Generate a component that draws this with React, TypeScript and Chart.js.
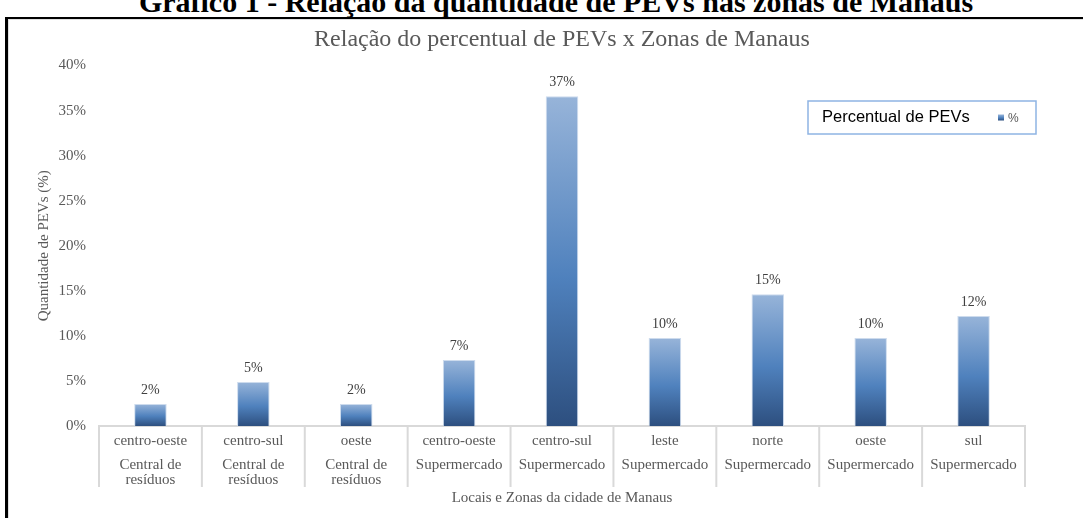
import { useEffect, useRef } from 'react';
import { Chart, registerables } from 'chart.js';

Chart.register(...registerables);

// ---- data ----
const zoneLabels = ['centro-oeste', 'centro-sul', 'oeste', 'centro-oeste', 'centro-sul', 'leste', 'norte', 'oeste', 'sul'];
const placeLabels = [
  ['Central de', 'resíduos'],
  ['Central de', 'resíduos'],
  ['Central de', 'resíduos'],
  ['Supermercado'],
  ['Supermercado'],
  ['Supermercado'],
  ['Supermercado'],
  ['Supermercado'],
  ['Supermercado'],
];
const pevPercent = [2.44, 4.88, 2.44, 7.32, 36.59, 9.76, 14.63, 9.76, 12.2];
const seriesName = '%';
const yTickMin = 0;
const yTickMax = 40;
const yTickStep = 5;

const headingText = 'Gráfico 1 - Relação da quantidade de PEVs nas zonas de Manaus';
const chartTitle = 'Relação do percentual de PEVs x Zonas de Manaus';
const yTitle = 'Quantidade de PEVs (%)';
const xTitle = 'Locais e Zonas da cidade de Manaus';
const legendTitle = 'Percentual de PEVs';

const SERIF = '"Liberation Serif", "Times New Roman", serif';
const SANS = '"Liberation Sans", Arial, sans-serif';

function makeGradient(ctx: CanvasRenderingContext2D, top: number, bottom: number) {
  const g = ctx.createLinearGradient(0, top, 0, bottom);
  g.addColorStop(0, '#97b4d9');
  g.addColorStop(0.55, '#4f81bd');
  g.addColorStop(1, '#2d4f7f');
  return g;
}

const barFill = (c: any) => {
  const chart = c.chart;
  const ys = chart.scales && chart.scales.y;
  if (!ys || c.type !== 'data') return '#4f81bd';
  const top = ys.getPixelForValue(c.raw);
  const bottom = ys.getPixelForValue(0);
  if (!isFinite(top) || !isFinite(bottom) || top === bottom) return '#4f81bd';
  return makeGradient(chart.ctx, top, bottom);
};

const valueLabels = {
  id: 'valueLabels',
  afterDatasetsDraw(chart: any, _args: any, o: any) {
    const ctx = chart.ctx;
    const meta = chart.getDatasetMeta(0);
    const data = chart.data.datasets[0].data;
    ctx.save();
    ctx.font = o.font;
    ctx.fillStyle = o.color;
    ctx.textAlign = 'center';
    ctx.textBaseline = 'middle';
    meta.data.forEach((bar: any, i: number) => {
      ctx.fillText(Math.round(data[i]) + '%', bar.x, bar.y - o.offset);
    });
    ctx.restore();
  },
};

const separators = {
  id: 'separators',
  afterDraw(chart: any, _args: any, o: any) {
    const xs = chart.scales.x;
    const n = chart.data.labels.length;
    const half = (xs.getPixelForValue(1) - xs.getPixelForValue(0)) / 2;
    const ctx = chart.ctx;
    ctx.save();
    ctx.strokeStyle = o.color;
    ctx.lineWidth = o.width;
    for (let i = 0; i <= n; i++) {
      const px = i < n ? xs.getPixelForValue(i) - half : xs.getPixelForValue(n - 1) + half;
      ctx.beginPath();
      ctx.moveTo(px, xs.top);
      ctx.lineTo(px, o.bottom);
      ctx.stroke();
    }
    ctx.restore();
  },
};

const boxLegend = {
  id: 'boxLegend',
  afterDraw(chart: any, _args: any, o: any) {
    const ctx = chart.ctx;
    ctx.save();
    ctx.strokeStyle = o.borderColor;
    ctx.lineWidth = o.borderWidth;
    ctx.strokeRect(o.x, o.y, o.w, o.h);
    const cy = o.y + o.h / 2;
    ctx.font = o.titleFont;
    ctx.fillStyle = o.titleColor;
    ctx.textAlign = 'left';
    ctx.textBaseline = 'middle';
    ctx.fillText(o.title, o.x + o.titleInset, cy);
    const mx = o.x + o.markerInset;
    ctx.fillStyle = makeGradient(ctx, cy - o.marker / 2, cy + o.marker / 2);
    ctx.fillRect(mx, cy - o.marker / 2, o.marker, o.marker);
    ctx.font = o.itemFont;
    ctx.fillStyle = o.itemColor;
    ctx.fillText(chart.data.datasets[0].label, mx + o.marker + 4, cy + 1);
    ctx.restore();
  },
};

export default function App() {
  const ref = useRef<HTMLCanvasElement | null>(null);

  useEffect(() => {
    if (!ref.current) return;
    const chart = new Chart(ref.current, {
      type: 'bar',
      data: {
        labels: zoneLabels,
        datasets: [
          {
            label: seriesName,
            data: pevPercent,
            backgroundColor: barFill,
            borderColor: 'rgba(200,215,235,0.9)',
            borderWidth: 1,
            categoryPercentage: 1,
            barPercentage: 0.316,
            xAxisID: 'x',
          },
        ],
      },
      options: {
        responsive: false,
        animation: false,
        events: [],
        layout: { padding: { left: 28, right: 58, top: 0, bottom: 0 } },
        scales: {
          y: {
            min: yTickMin,
            max: yTickMax,
            grid: { display: false, drawTicks: false },
            border: { display: false },
            ticks: {
              stepSize: yTickStep,
              padding: 13,
              color: '#595959',
              font: { family: SERIF, size: 15 },
              callback: (v: any) => v + '%',
            },
            title: {
              display: true,
              text: yTitle,
              color: '#595959',
              font: { family: SERIF, size: 15 },
              padding: { top: 7, bottom: 0 },
            },
            afterFit: (s: any) => {
              s.width = 71;
            },
          },
          x: {
            type: 'category',
            weight: 1,
            offset: true,
            grid: { display: false, drawTicks: false },
            border: { display: true, color: '#d9d9d9', width: 2 },
            ticks: {
              padding: 6,
              color: '#595959',
              autoSkip: false,
              maxRotation: 0,
              font: { family: SERIF, size: 15 },
            },
            afterFit: (s: any) => {
              s.height = 27;
            },
          },
          x2: {
            type: 'category',
            position: 'bottom',
            weight: 2,
            labels: placeLabels as any,
            offset: true,
            grid: { display: false, drawTicks: false },
            border: { display: false },
            ticks: {
              padding: 4.5,
              color: '#595959',
              autoSkip: false,
              maxRotation: 0,
              font: { family: SERIF, size: 15, lineHeight: '15px' },
            },
            title: {
              display: true,
              text: xTitle,
              color: '#595959',
              font: { family: SERIF, size: 15 },
              padding: { top: 0, bottom: 11 },
            },
            afterFit: (s: any) => {
              s.height = 65;
            },
          },
        },
        plugins: {
          legend: { display: false },
          tooltip: { enabled: false },
          title: {
            display: true,
            fullSize: false,
            text: chartTitle,
            color: '#595959',
            font: { family: SERIF, size: 24, weight: 'normal' },
            padding: { top: 25.6, bottom: 11.1 },
          },
          valueLabels: { font: `14px ${SERIF}`, color: '#404040', offset: 14 },
          separators: { color: '#d9d9d9', width: 2, bottom: 487 },
          boxLegend: {
            x: 808,
            y: 101,
            w: 228,
            h: 33,
            borderColor: '#8eb4e3',
            borderWidth: 1.5,
            title: legendTitle,
            titleFont: `16.5px ${SANS}`,
            titleColor: '#000000',
            titleInset: 14,
            markerInset: 190,
            marker: 6,
            itemFont: `12px ${SANS}`,
            itemColor: '#595959',
          },
        } as any,
      },
      plugins: [valueLabels, separators, boxLegend],
    });
    return () => chart.destroy();
  }, []);

  return (
    <div
      style={{
        position: 'absolute',
        left: 0,
        top: 0,
        width: 1083,
        height: 518,
        overflow: 'hidden',
        background: '#ffffff',
      }}
    >
      <div
        style={{
          position: 'absolute',
          left: 0,
          top: -13,
          width: 1112,
          textAlign: 'center',
          fontFamily: SERIF,
          fontWeight: 'bold',
          fontSize: 30,
          lineHeight: '30px',
          color: '#000',
          whiteSpace: 'nowrap',
        }}
      >
        {headingText}
      </div>
      <div
        style={{
          position: 'absolute',
          left: 5,
          top: 17,
          width: 1200,
          height: 600,
          borderTop: '2px solid #000',
          borderLeft: '3px solid #000',
          boxShadow: 'inset 1px 1px 0 #e0e0e0',
          background: '#fff',
        }}
      />
      <canvas
        ref={ref}
        width={1083}
        height={518}
        style={{ position: 'absolute', left: 0, top: 0, width: 1083, height: 518 }}
      />
    </div>
  );
}
